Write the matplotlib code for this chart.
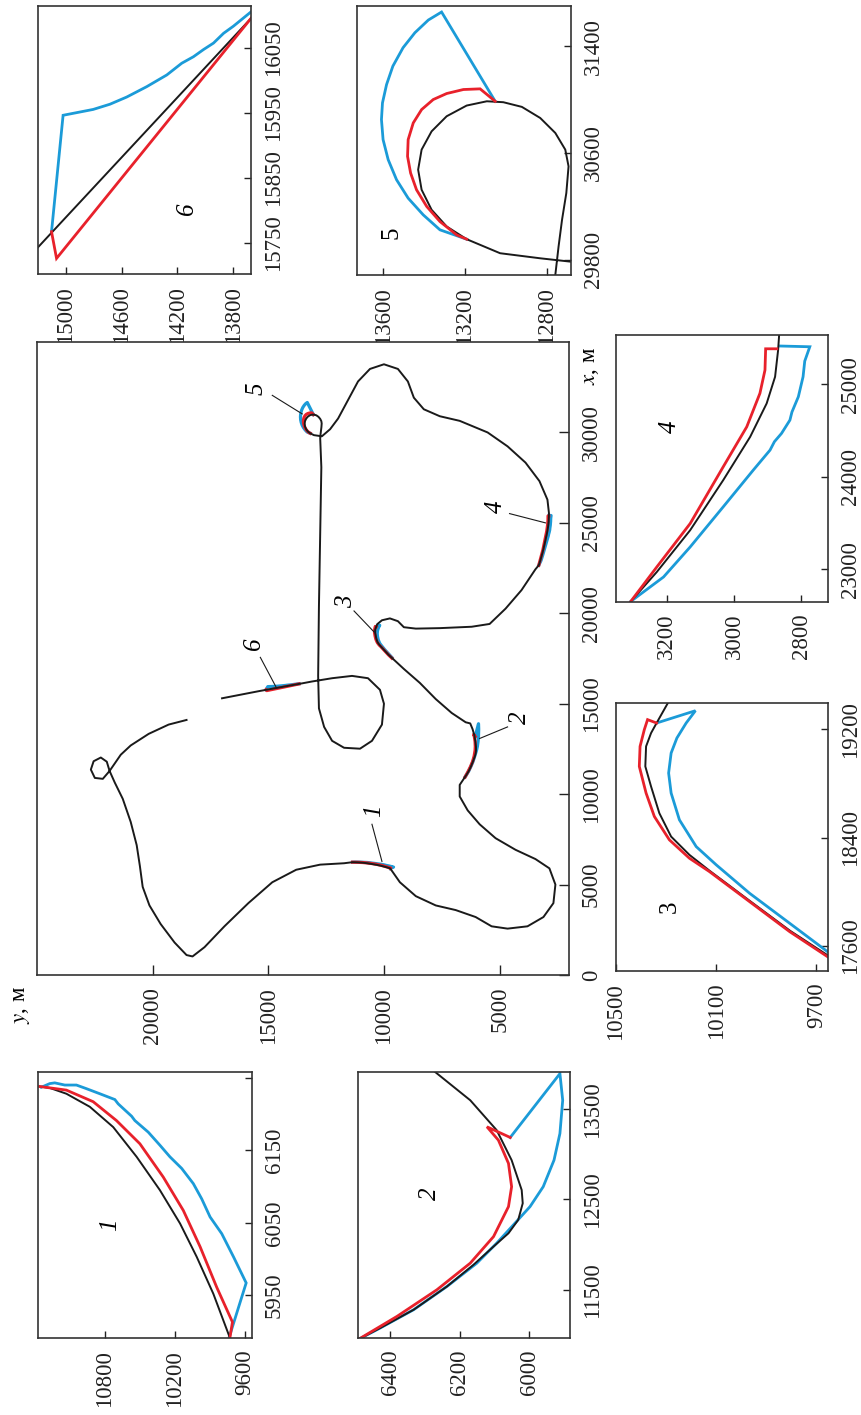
import numpy as np
import matplotlib
matplotlib.use("Agg")
import matplotlib.pyplot as plt

plt.rcParams["font.family"] = ["Liberation Serif", "DejaVu Serif"]
plt.rcParams["mathtext.fontset"] = "stix"

BLUE = "#1b9bd8"
RED = "#e8212b"
BLACK = "#1a1a1a"

# ── main trajectory pieces (x, y in metres), joined with the inset blacks
main_a_x = [14102, 13846, 13333, 12692, 12179, 11282, 10846, 10897, 11358, 11820, 12025,
            11794, 11282, 10641, 9743, 8461, 7179, 6025, 4872, 3846, 2820, 1795, 1103,
            1026, 1538, 2692, 3974, 5128, 5820, 6102, 6179]
main_a_y = [18535, 19310, 20172, 20948, 21379, 21862, 22155, 22500, 22672, 22552, 22241,
            21983, 21862, 21638, 21293, 20948, 20690, 20552, 20431, 20138, 19655, 19052,
            18535, 18276, 17759, 16897, 15862, 14828, 13793, 12759, 11725]
main_b_x = [5128, 4359, 3846, 3590, 3205, 2692, 2564, 2692, 3205, 3974, 5000, 5897, 6410,
            6923, 7564, 8333, 9102, 9871, 10512]
main_b_y = [9311, 8622, 7760, 6898, 6036, 5346, 4656, 3794, 3105, 2674, 2588, 2847, 3450,
            4312, 5174, 5863, 6380, 6725, 6725]
main_c_x = [13974, 14487, 15256, 16153, 16922]
main_c_y = [6467, 7070, 7760, 8450, 9139]
main_d_x = [19614, 19717, 19563, 19230, 19153, 19179, 19256, 19410, 20256, 21281, 22435]
main_d_y = [10087, 9742, 9397, 9139, 8622, 7587, 6208, 5432, 4743, 4053, 3450]
main_e_x = [26281, 27307, 28332, 29230, 29999, 30640, 30896, 31281, 31922, 32819, 33511,
            33768, 33511, 32819, 31794, 30768, 30178]
main_e_y = [2932, 3277, 3881, 4656, 5518, 6725, 7587, 8277, 8708, 8966, 9397, 10000,
            10604, 11121, 11552, 11983, 12328]
main_f_x = [28076, 24230, 20384, 16538, 14743, 13717, 12948, 12564, 12513, 12948, 13846,
            14999, 15769, 16410, 16538, 16410, 16230]
main_f_y = [12707, 12759, 12811, 12845, 12811, 12587, 12242, 11725, 11035, 10518, 10087,
            10000, 10173, 10690, 11380, 12242, 13104]
main_g_x = [15300]
main_g_y = [17000]

# ── inset 1
p1_black_x = [6238, 6236, 6228, 6210, 6182, 6141, 6095, 6049, 6003, 5952, 5893]
p1_black_y = [11359, 11273, 11130, 10929, 10728, 10527, 10327, 10154, 10011, 9868, 9730]
p1_red_x = [5893, 5913, 5961, 6017, 6067, 6113, 6159, 6191, 6217, 6233, 6238]
p1_red_y = [9724, 9704, 9839, 9982, 10126, 10298, 10499, 10700, 10900, 11130, 11359]
p1_blue_x = [5893, 5967, 6003, 6035, 6058, 6083, 6104, 6125, 6141, 6157, 6175, 6191,
             6197, 6214, 6220, 6228, 6235, 6240, 6240, 6243, 6242, 6237]
p1_blue_y = [9730, 9586, 9695, 9796, 9896, 9968, 10040, 10140, 10241, 10327, 10427, 10542,
             10570, 10685, 10714, 10843, 10958, 11044, 11144, 11230, 11273, 11345]

# ── inset 2
p2_black_x = [10948, 11077, 11279, 11537, 11776, 11979, 12126, 12274, 12458, 12605, 12936,
              13268, 13599, 13912]
p2_black_y = [6493, 6429, 6333, 6237, 6161, 6103, 6060, 6032, 6019, 6022, 6051, 6094,
              6170, 6271]
p2_red_x = [10948, 11205, 11500, 11795, 12089, 12421, 12642, 12900, 13157, 13305, 13187]
p2_red_y = [6493, 6381, 6266, 6170, 6103, 6060, 6051, 6060, 6089, 6122, 6055]
p2_blue_x = [13187, 13894, 13599, 13231, 12936, 12642, 12421, 12218, 12016, 11795, 11537,
             11279, 11077, 10948]
p2_blue_y = [6055, 5912, 5904, 5912, 5929, 5960, 5998, 6046, 6094, 6151, 6237, 6333,
             6429, 6493]

# ── inset 3
p3_black_x = [17530, 17710, 17930, 18155, 18272, 18407, 18580, 18777, 18926, 19074, 19173,
              19247, 19395]
p3_black_y = [9656, 9805, 9965, 10127, 10207, 10280, 10327, 10360, 10383, 10380, 10360,
              10338, 10293]
p3_red_x = [17519, 17704, 17926, 18148, 18247, 18383, 18556, 18729, 18926, 19074, 19198,
            19272, 19247]
p3_red_y = [9656, 9807, 9967, 10127, 10207, 10287, 10347, 10380, 10407, 10404, 10387,
            10374, 10338]
p3_blue_x = [17556, 17766, 17988, 18198, 18333, 18531, 18729, 18877, 19025, 19136, 19247,
             19338, 19247]
p3_blue_y = [9656, 9807, 9967, 10100, 10180, 10247, 10280, 10290, 10280, 10257, 10220,
             10183, 10338]

# ── inset 4
p4_black_x = [22656, 22973, 23424, 23964, 24432, 24793, 25081, 25370, 25532]
p4_black_y = [3306, 3229, 3130, 3032, 2952, 2903, 2878, 2869, 2866]
p4_red_x = [22656, 23027, 23496, 24108, 24541, 24902, 25153, 25383, 25383]
p4_red_y = [3306, 3229, 3130, 3032, 2962, 2923, 2908, 2906, 2873]
p4_blue_x = [22656, 22919, 23243, 23676, 24072, 24289, 24380, 24469, 24613, 24700, 24865,
             25081, 25250, 25405, 25413]
p4_blue_y = [3306, 3209, 3130, 3032, 2943, 2893, 2880, 2859, 2834, 2828, 2809, 2795,
             2790, 2775, 2862]

# ── inset 5
p5_black_x = [29787, 29812, 29850, 29955, 30050, 30175, 30325, 30475, 30625, 30762, 30875,
              30955, 30987, 30980, 30945, 30862, 30750, 30625, 30500, 30300, 30100, 29900,
              29687]
p5_black_y = [12683, 12831, 13028, 13192, 13290, 13364, 13413, 13430, 13413, 13364, 13290,
              13192, 13093, 13012, 12921, 12831, 12757, 12708, 12692, 12703, 12724, 12741,
              12757]
p5_red_x = [29955, 29987, 30087, 30200, 30325, 30450, 30575, 30700, 30825, 30925, 31000,
            31045, 31075, 31080, 30987]
p5_red_y = [13192, 13241, 13323, 13388, 13438, 13467, 13482, 13479, 13454, 13413, 13356,
            13290, 13208, 13126, 13052]
p5_blue_x = [29955, 30025, 30137, 30262, 30400, 30550, 30700, 30850, 30975, 31112, 31250,
             31388, 31500, 31595, 31655, 30987]
p5_blue_y = [13192, 13323, 13405, 13479, 13536, 13577, 13602, 13610, 13605, 13585, 13554,
             13504, 13446, 13380, 13315, 13052]

# ── inset 6
p6_black_x = [16130, 15700]
p6_black_y = [13520, 15387]
p6_red_x = [16095, 15726, 15767]
p6_red_y = [13672, 15067, 15103]
p6_blue_x = [15767, 15946, 15955, 15963, 15974, 15990, 16008, 16026, 16036, 16047, 16057,
             16072, 16083, 16105]
p6_blue_y = [15103, 15020, 14804, 14684, 14564, 14420, 14276, 14169, 14085, 14013, 13941,
             13869, 13798, 13672]

# ── labels on the overview
mark_names = ["1", "2", "3", "4", "5", "6"]
mark_x = [9102, 14230, 20640, 25896, 32435, 18333]
mark_y = [10432, 4139, 11638, 5174, 15517, 15603]
lead_x0 = [8333, 13717, 20128, 25512, 32050, 17563]
lead_y0 = [10518, 4656, 11294, 4570, 14828, 15345]
lead_x1 = [6282, 13077, 18974, 25000, 31025, 15897]
lead_y1 = [10087, 5863, 10432, 3019, 13535, 14655]

W, H = 862, 1415
fig = plt.figure(figsize=(W / 100, H / 100), dpi=100)


def add_box(left, top, right, bottom):
    return fig.add_axes([left / W, 1 - bottom / H, (right - left) / W, (bottom - top) / H])


def setup(ax, ylim, xlim, yticks, xticks, xlabels=None, fs=16.5, ticklen=5):
    # figure is turned a quarter: y runs to the left, x runs upward
    ax.set_xlim(ylim)
    ax.set_ylim(xlim)
    ax.set_xticks(yticks)
    ax.set_yticks(xticks)
    if xlabels is not None:
        ax.set_yticklabels(xlabels)
    ax.yaxis.tick_right()
    ax.tick_params(direction="in", length=ticklen, width=1.0, labelsize=fs, pad=8.5,
                   colors="#222222")
    ax.tick_params(axis="x", labelrotation=90)
    ax.tick_params(axis="y", labelrotation=90)
    for lab in ax.get_yticklabels():
        lab.set_va("center")
    for sp in ax.spines.values():
        sp.set_linewidth(1.2)
        sp.set_color("#333333")


def draw_inset(ax, bx, by, rx, ry, ux, uy, name, lx, ly, italic=True):
    ax.plot(uy, ux, color=BLUE, lw=2.0, solid_joinstyle="miter")
    ax.plot(by, bx, color=BLACK, lw=1.4)
    ax.plot(ry, rx, color=RED, lw=2.0, solid_joinstyle="miter")
    ax.text(ly, lx, name, rotation=90, fontsize=18, ha="center", va="center",
            style="italic" if italic else "normal")


# inset 6 (top left)
ax6 = add_box(38, 6, 251, 274)
setup(ax6, (15200, 13672), (15702, 16114), [15000, 14600, 14200, 13800],
      [15750, 15850, 15950, 16050])
draw_inset(ax6, p6_black_x, p6_black_y, p6_red_x, p6_red_y, p6_blue_x, p6_blue_y,
           "6", 15803, 14133)

# inset 5 (top middle)
ax5 = add_box(357, 6, 571, 275)
setup(ax5, (13730, 12680), (29687, 31700), [13600, 13200, 12800], [29800, 30600, 31400])
draw_inset(ax5, p5_black_x, p5_black_y, p5_red_x, p5_red_y, p5_blue_x, p5_blue_y,
           "5", 30000, 13561, italic=False)

# inset 4 (right, upper)
ax4 = add_box(616, 335, 828, 602)
setup(ax4, (3350, 2721), (22649, 25532), [3200, 3000, 2800], [23000, 24000, 25000])
draw_inset(ax4, p4_black_x, p4_black_y, p4_red_x, p4_red_y, p4_blue_x, p4_blue_y,
           "4", 24540, 3190)

# inset 3 (right, lower)
ax3 = add_box(616, 703, 828, 971)
setup(ax3, (10500, 9654), (17413, 19395), [10500, 10100, 9700], [17600, 18400, 19200])
draw_inset(ax3, p3_black_x, p3_black_y, p3_red_x, p3_red_y, p3_blue_x, p3_blue_y,
           "3", 17889, 10287, italic=False)

# inset 1 (bottom left)
ax1 = add_box(38, 1072, 252, 1338)
setup(ax1, (11374, 9536), (5891, 6258), [10800, 10200, 9600],
      [5950, 6050, 6150, 6250], xlabels=["5950", "6050", "6150", ""])
draw_inset(ax1, p1_black_x, p1_black_y, p1_red_x, p1_red_y, p1_blue_x, p1_blue_y,
           "1", 6047, 10757)

# inset 2 (bottom middle)
ax2 = add_box(358, 1072, 570, 1338)
setup(ax2, (6493, 5883), (10966, 13912), [6400, 6200, 6000], [11500, 12500, 13500])
draw_inset(ax2, p2_black_x, p2_black_y, p2_red_x, p2_red_y, p2_blue_x, p2_blue_y,
           "2", 12568, 6285)

# overview
ax = add_box(37, 342, 569, 975)
setup(ax, (25000, 2000), (0, 35000), [20000, 15000, 10000, 5000],
      [0, 5000, 10000, 15000, 20000, 25000, 30000], ticklen=7)

path_x = np.concatenate([main_a_x, p1_black_x, main_b_x, p2_black_x, main_c_x, p3_black_x,
                         main_d_x, p4_black_x, main_e_x, p5_black_x, main_f_x, p6_black_x,
                         main_g_x])
path_y = np.concatenate([main_a_y, p1_black_y, main_b_y, p2_black_y, main_c_y, p3_black_y,
                         main_d_y, p4_black_y, main_e_y, p5_black_y, main_f_y, p6_black_y,
                         main_g_y])

for rx, ry, ux, uy in [(p1_red_x, p1_red_y, p1_blue_x, p1_blue_y),
                       (p2_red_x, p2_red_y, p2_blue_x, p2_blue_y),
                       (p3_red_x, p3_red_y, p3_blue_x, p3_blue_y),
                       (p4_red_x, p4_red_y, p4_blue_x, p4_blue_y),
                       (p5_red_x, p5_red_y, p5_blue_x, p5_blue_y),
                       (p6_red_x, p6_red_y, p6_blue_x, p6_blue_y)]:
    ax.plot(uy, ux, color=BLUE, lw=2.3)
    ax.plot(ry, rx, color=RED, lw=2.3)
ax.plot(path_y, path_x, color=BLACK, lw=1.4)

for name, mx, my, x0, y0, x1, y1 in zip(mark_names, mark_x, mark_y, lead_x0, lead_y0,
                                         lead_x1, lead_y1):
    ax.plot([y0, y1], [x0, x1], color=BLACK, lw=0.8)
    ax.text(my, mx, name, rotation=90, fontsize=18, style="italic", ha="center",
            va="center")

ax.annotate("$x$, м", xy=(1, 33700), xycoords=("axes fraction", "data"), xytext=(8, 0),
            textcoords="offset points", rotation=90, ha="left", va="center", fontsize=16.5)
ax.annotate("$y$, м", xy=(25650, 0), xycoords=("data", "axes fraction"), xytext=(0, -8),
            textcoords="offset points", rotation=90, ha="center", va="top", fontsize=16.5)

fig.savefig("out.png", dpi=100)
